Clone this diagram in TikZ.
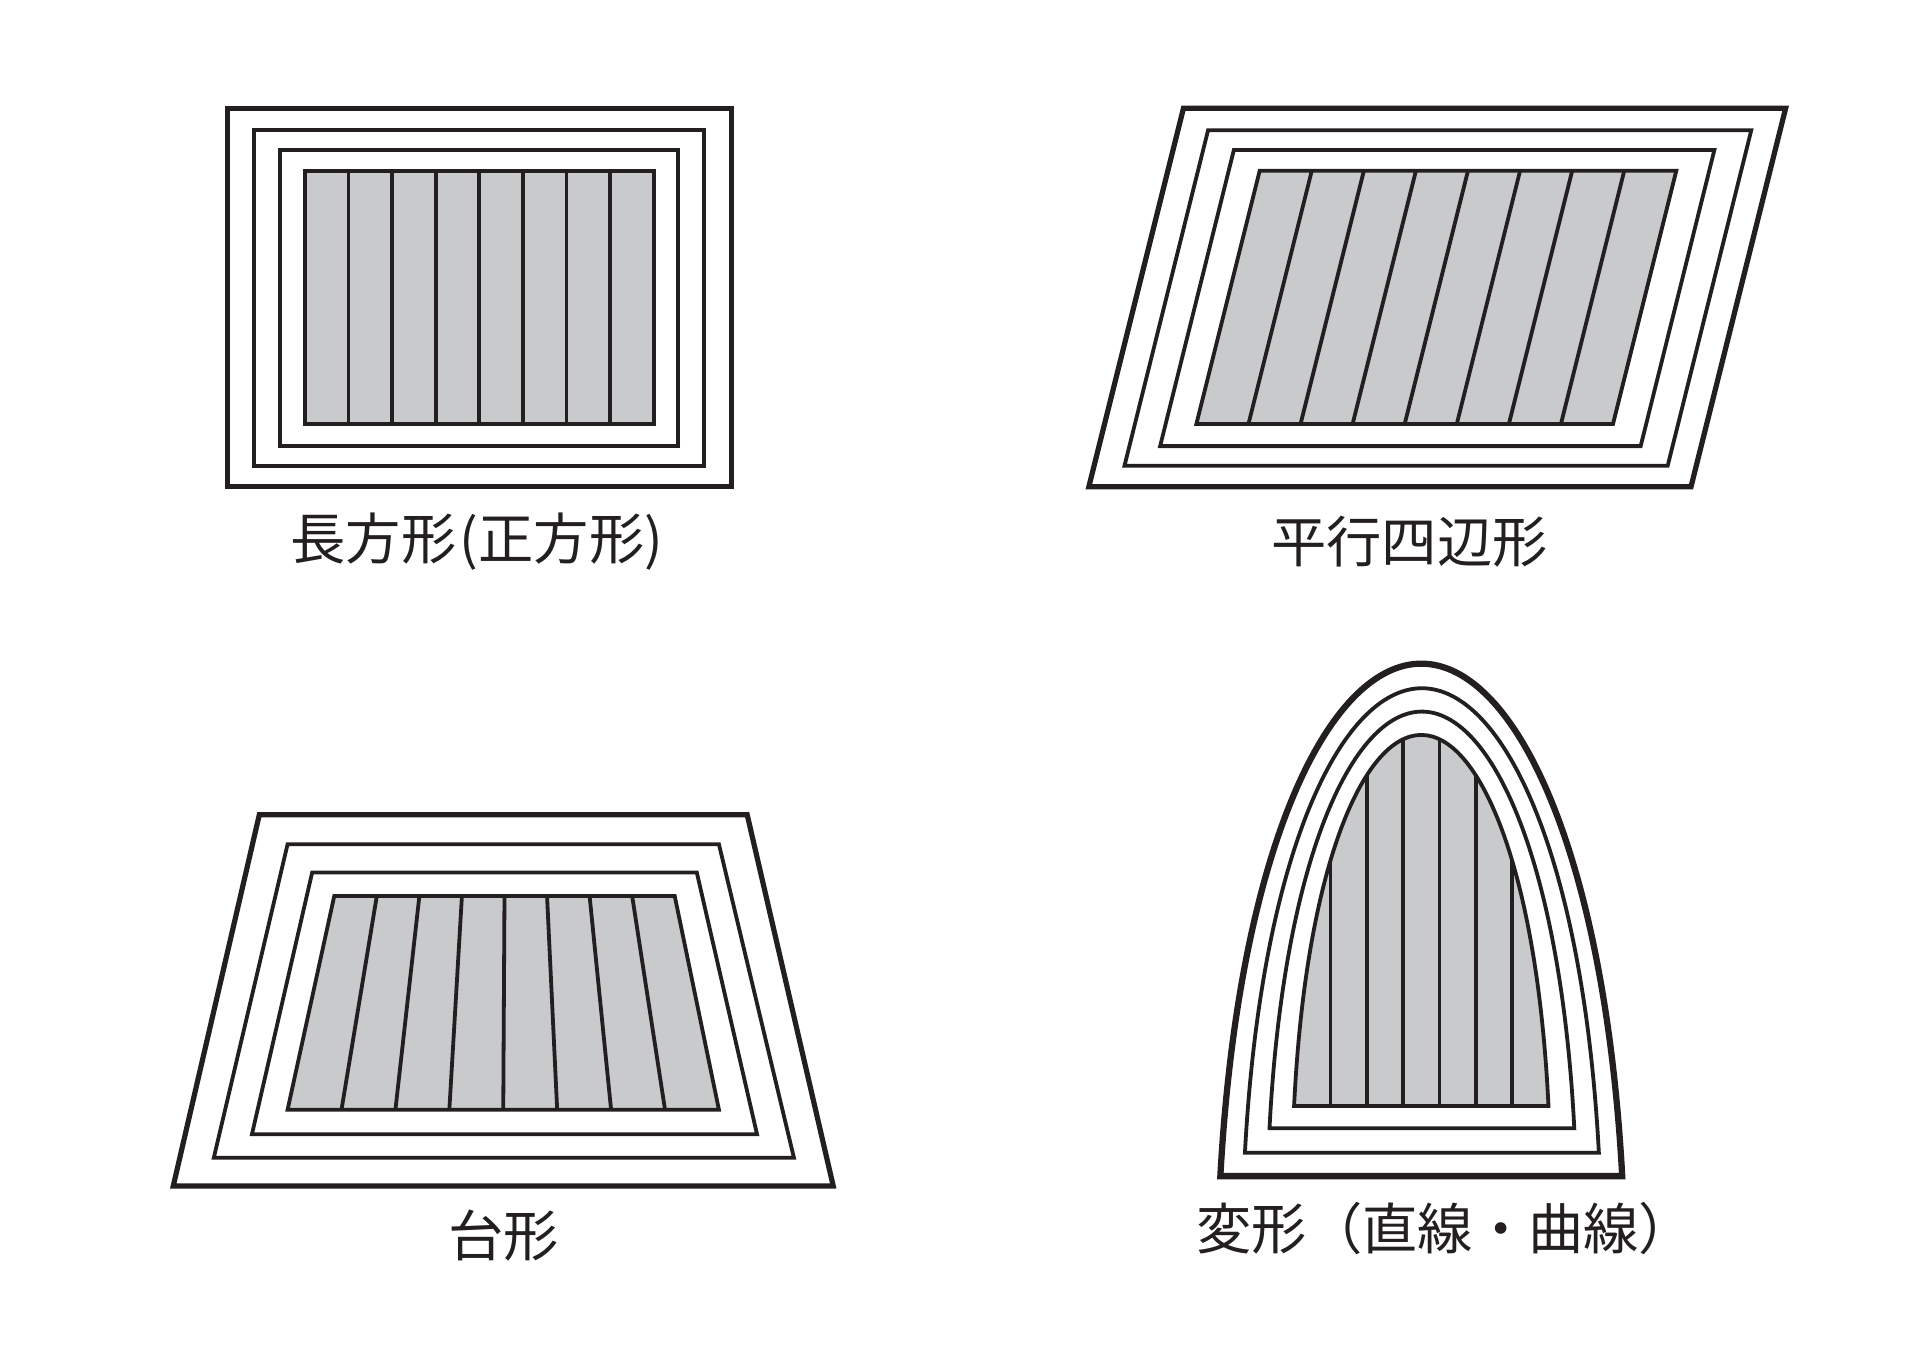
\documentclass[tikz,border=0pt]{standalone}
\usepackage{fontspec}
\newfontfamily\jpfont{Noto Sans CJK JP}
\usepackage{xcolor}
\usepackage{tikz}
\usetikzlibrary{calc}
\definecolor{inkline}{RGB}{35, 31, 32}
\definecolor{stripgray}{RGB}{200, 202, 204}
\tikzset{
  outerline/.style={draw=inkline, line width=1.2pt, line join=miter},
  layerline/.style={draw=inkline, line width=0.88pt, line join=miter},
  graypanel/.style={layerline, fill=stripgray},
  stripline/.style={draw=inkline, line width=0.88pt},
  shapelabel/.style={
    font=\jpfont\fontsize{12.8pt}{14pt}\selectfont,
    text=inkline, inner sep=0pt
  },
  % left, right, top, base of one arch layer
  archpath/.style n args={4}{insert path={
    (#1,#4) .. controls ({#1+0.045*(#2-#1)},{#4-0.64*(#4-#3)}) and ({(#1+#2)/2-0.23*(#2-#1)},#3) .. ({(#1+#2)/2},#3)
    .. controls ({(#1+#2)/2+0.23*(#2-#1)},#3) and ({#2-0.045*(#2-#1)},{#4-0.64*(#4-#3)}) .. (#2,#4) -- cycle
  }}
}

\begin{document}
\begin{tikzpicture}[x=0.1mm, y=-0.1mm]

  \path[fill=white] (0,0) rectangle (1568,1098);
  \useasboundingbox (0,0) rectangle (1568,1098);

  % Rectangle (square)
  \draw[outerline] (185,88) rectangle (595,396);
  \draw[layerline] (207,106) rectangle (573,379);
  \draw[layerline] (228,122) rectangle (552,363);
  \draw[graypanel] (248,139) rectangle (532,345);
  \foreach \i in {1,...,7}
    \draw[stripline] ({248+\i*35.5},139) -- ({248+\i*35.5},345);
  \node[shapelabel] (lbl_rect) at (388,441) {長方形\hspace{0.06em}(正方形)};

  % Parallelogram
  \draw[outerline] (963,88) -- (1453,88) -- (1376,396) -- (886,396) -- cycle;
  \draw[layerline] (983,106) -- (1425,106) -- (1357,379) -- (915,379) -- cycle;
  \draw[layerline] (1004,122) -- (1395,122) -- (1335,363) -- (944,363) -- cycle;
  \draw[graypanel] (1025,139) -- (1364,139) -- (1312.5,345) -- (973.5,345) -- cycle;
  \foreach \i in {1,...,7}
    \draw[stripline] ({1025+\i*42.375},139) -- ({973.5+\i*42.375},345);
  \node[shapelabel] (lbl_para) at (1147,441) {平行四辺形};

  % Trapezoid
  \draw[outerline] (211,663) -- (608,663) -- (678,965) -- (141,965) -- cycle;
  \draw[layerline] (234,687) -- (585,687) -- (646,942) -- (174,942) -- cycle;
  \draw[layerline] (254,710) -- (567,710) -- (616,923) -- (205,923) -- cycle;
  \draw[graypanel] (272,729) -- (549,729) -- (585,903) -- (234,903) -- cycle;
  \foreach \i in {1,...,7}
    \draw[stripline] ({272+\i*277/8},729) -- ({234+\i*351/8},903);
  \node[shapelabel] (lbl_trap) at (410,1005) {台形};

  % Free form (arch)
  \draw[outerline, line width=1.45pt, archpath={993}{1320}{540}{957}];
  \foreach \xl/\xr/\yt/\yb in {1013/1301/560/938, 1033/1281/579/918}
    \draw[layerline, archpath={\xl}{\xr}{\yt}{\yb}];
  \fill[stripgray, archpath={1053}{1260}{598}{900}];
  \begin{scope}
    \clip[archpath={1053}{1260}{598}{900}];
    \foreach \i in {1,...,6}
      \draw[stripline] ({1053+\i*207/7},900) -- ({1053+\i*207/7},590);
  \end{scope}
  \draw[layerline, archpath={1053}{1260}{598}{900}];
  \node[shapelabel, anchor=west] (lbl_arch) at (973,1000) {変形（直線・曲線）};

\end{tikzpicture}
\end{document}
